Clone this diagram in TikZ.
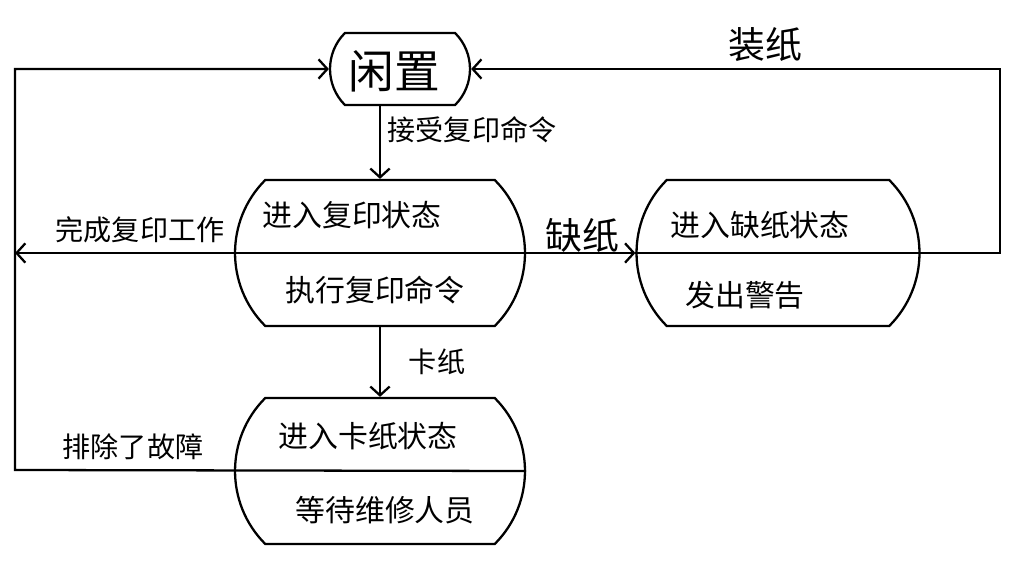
\documentclass[tikz,border=0pt]{standalone}
\usepackage{fontspec}
\newfontfamily\cjk{Noto Sans CJK SC}
\usetikzlibrary{arrows.meta,positioning,calc,shapes.misc}
\tikzset{
    >={Straight Barb[length=5pt,width=11pt]},
    every picture/.style={line width=1.3pt},
    state/.style={rounded rectangle,rounded rectangle arc length=90,draw,
        minimum width=5.8cm,minimum height=2.92cm,inner sep=0pt},
    txt/.style={font=\cjk\fontsize{17}{18}\selectfont,inner sep=0pt},
    lbl/.style={font=\cjk\fontsize{16}{18}\selectfont,inner sep=0pt},
    biglbl/.style={font=\cjk\fontsize{21}{22}\selectfont,inner sep=0pt}
}

\begin{document}
\begin{tikzpicture}[x=0.02cm,y=-0.02cm]
    \useasboundingbox (0,0) rectangle (1024,584);
    % States
    \node[state,minimum width=2.8cm,minimum height=1.44cm] (idle) at (400,69) {};
    \node[state] (copy) at (380,253) {};
    \node[state,minimum width=5.66cm] (nop) at (778,253) {};
    \node[state] (jam) at (380,471) {};

    % State texts
    \node[txt,font=\cjk\fontsize{26}{28}\selectfont] (idleT) at (394,71) {闲置};
    \node[txt] (copyA) at (352,215) {进入复印状态};
    \node[txt] (copyB) at (375,290) {执行复印命令};
    \node[txt] (nopA) at (760,225) {进入缺纸状态};
    \node[txt] (nopB) at (745,295) {发出警告};
    \node[txt] (jamA) at (368,436) {进入卡纸状态};
    \node[txt] (jamB) at (385,510) {等待维修人员};

    % Corners
    \coordinate (lt) at (15,253);
    \coordinate (lb) at (15,470);
    \coordinate (rt) at (1000,253);

    % Transitions
    \draw[->] (copy.north |- idle.south) -- (copy.north);
    \draw (copy.west) -- (copy.east);
    \draw[->] (copy.west) -- (lt);
    \draw[->] (copy.east) -- (nop.west);
    \draw[->] (nop.west) -- (rt) |- (idle.east);
    \draw[->] (copy.south) -- (jam.north);
    \draw[->] (jam.east) -- (lb) |- (idle.west);

    % Labels
    \node[lbl] (accept) at (472,130) {接受复印命令};
    \node[lbl] (done) at (140,230) {完成复印工作};
    \node[biglbl] (lack) at (582,235) {缺纸};
    \node[biglbl] (load) at (765,45) {装纸};
    \node[lbl] (stuck) at (437,362) {卡纸};
    \node[lbl] (fixed) at (133,447) {排除了故障};
\end{tikzpicture}
\end{document}
